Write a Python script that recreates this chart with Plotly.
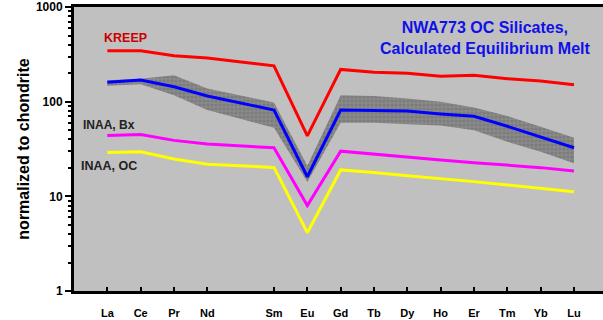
import plotly.graph_objects as go

elements = ["La", "Ce", "Pr", "Nd", "Sm", "Eu", "Gd", "Tb", "Dy", "Ho", "Er", "Tm", "Yb", "Lu"]
atomic_no = [57, 58, 59, 60, 62, 63, 64, 65, 66, 67, 68, 69, 70, 71]

kreep = [345, 345, 305, 290, 239, 43.6, 219, 205, 200, 186, 190, 175, 165, 151]
melt = [160, 169, 144, 115, 81.5, 16.1, 81.5, 81, 79.5, 74, 70, 55, 42, 32.6]
melt_upper = [168, 175, 190, 138, 98, 21, 117, 115, 108, 100, 87, 70.5, 54.3, 41.6]
melt_lower = [147, 153, 117, 81.5, 53, 14.2, 60, 60, 57.6, 56, 50, 37.7, 29.6, 22.3]
inaa_bx = [44, 45, 39, 35.7, 32.6, 8.0, 30, 27.8, 26, 24.2, 22.7, 21.4, 20.1, 18.5]
inaa_oc = [29.1, 29.6, 24.8, 21.8, 20.2, 4.13, 19, 17.9, 16.5, 15.5, 14.3, 13.2, 12.2, 11.2]

FONT = "Arial, Liberation Sans, sans-serif"

fig = go.Figure()

fig.add_trace(go.Scatter(x=atomic_no, y=melt_upper, mode="lines",
                         line=dict(width=0, color="rgba(0,0,0,0)"),
                         hoverinfo="skip", showlegend=False))
fig.add_trace(go.Scatter(x=atomic_no, y=melt_lower, mode="lines",
                         line=dict(width=0, color="rgba(0,0,0,0)"),
                         fill="tonexty", fillcolor="#7c7c7c",
                         fillpattern=dict(shape=".", fgcolor="#6c6c6c", bgcolor="#8a8a8a",
                                          size=4, solidity=0.5),
                         hoverinfo="skip", showlegend=False))

for vals, col in [(kreep, "#ff0000"), (inaa_bx, "#ff00ff"), (inaa_oc, "#ffff00"), (melt, "#0000ff")]:
    fig.add_trace(go.Scatter(x=atomic_no, y=vals, mode="lines",
                             line=dict(color=col, width=3), showlegend=False))

minor_vals = [m * 10 ** d for d in range(3) for m in range(2, 10)]

fig.update_layout(
    width=603, height=320,
    margin=dict(l=74, r=0, t=7, b=29),
    paper_bgcolor="white",
    plot_bgcolor="#c0c0c0",
    font=dict(family=FONT, color="black"),
    xaxis=dict(
        range=[56.0, 71.87],
        tickvals=atomic_no, ticktext=elements,
        ticks="inside", ticklen=4, tickwidth=2, tickcolor="black",
        tickfont=dict(family=FONT, size=11, color="black", weight="bold"),
        ticklabelstandoff=10,
        showline=True, linewidth=3, linecolor="black", mirror=True,
        showgrid=False, zeroline=False,
    ),
    yaxis=dict(
        type="log", range=[0, 3],
        tickvals=[1, 10, 100, 1000], ticktext=["1", "10", "100", "1000"],
        ticks="outside", ticklen=6, tickwidth=2, tickcolor="black",
        minor=dict(tickvals=minor_vals, ticks="outside", ticklen=3, tickwidth=1.5, tickcolor="black"),
        tickfont=dict(family=FONT, size=12, color="black", weight="bold"),
        showline=True, linewidth=3, linecolor="black", mirror=False,
        showgrid=False, zeroline=False,
        title=dict(text="normalized to chondrite",
                   font=dict(family=FONT, size=16, color="black", weight="bold"),
                   standoff=3),
    ),
)

fig.add_annotation(x=0.053, y=0.892, xref="paper", yref="paper", text="KREEP",
                   showarrow=False, xanchor="left", yanchor="middle",
                   font=dict(family=FONT, size=12.5, weight="bold", color="#cc0000"))
fig.add_annotation(x=0.014, y=0.585, xref="paper", yref="paper", text="INAA, Bx",
                   showarrow=False, xanchor="left", yanchor="middle",
                   font=dict(family=FONT, size=12, weight="bold", color="#222222"))
fig.add_annotation(x=0.01, y=0.44, xref="paper", yref="paper", text="INAA, OC",
                   showarrow=False, xanchor="left", yanchor="middle",
                   font=dict(family=FONT, size=12.5, weight="bold", color="#222222"))
fig.add_annotation(x=0.777, y=0.891, xref="paper", yref="paper",
                   text="NWA773 OC Silicates,<br>Calculated Equilibrium Melt",
                   showarrow=False, xanchor="center", yanchor="middle", align="center",
                   font=dict(family=FONT, size=16, weight="bold", color="#1010e8"))
fig.add_annotation(x=0.727, y=-0.09, xref="paper", yref="paper", text="x",
                   showarrow=False, xanchor="center", yanchor="top",
                   font=dict(family=FONT, size=12, weight="bold", color="black"))

fig.write_html("out.html", config={"displayModeBar": False},
               post_script="document.body.style.margin='0';document.body.style.overflow='hidden';")
